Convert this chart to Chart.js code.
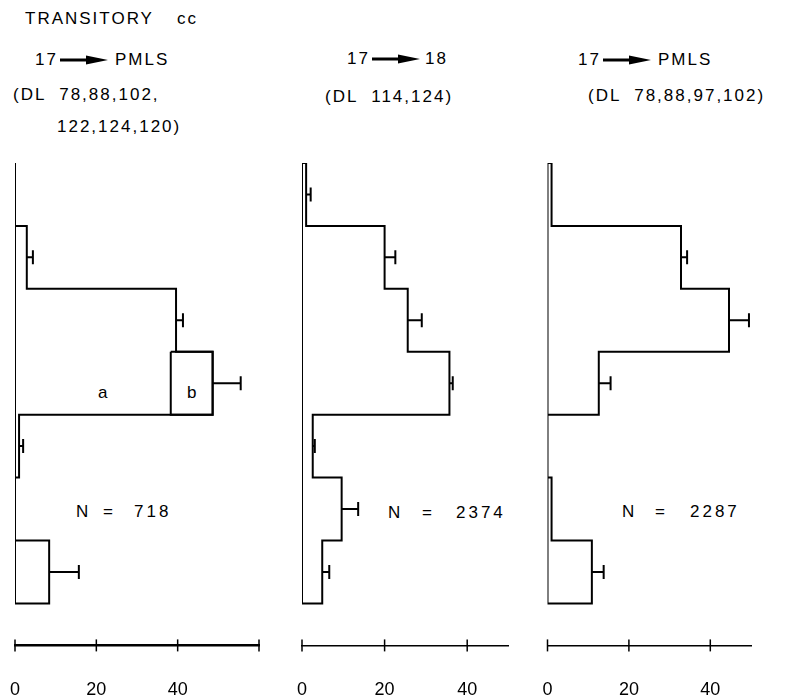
<!DOCTYPE html>
<html>
<head>
<meta charset="utf-8">
<script src="https://cdn.jsdelivr.net/npm/chart.js@4.4.1/dist/chart.umd.min.js"></script>
<style>
  html, body { margin: 0; padding: 0; background: #fff; overflow: hidden; }
  #page { position: relative; width: 789px; height: 700px; overflow: hidden;
          font-family: "Liberation Sans", Arial, sans-serif; color: #000; }
  .txt { position: absolute; font-size: 17px; letter-spacing: 2px; line-height: 20px; white-space: pre; }
  .num { letter-spacing: 3px; }
  .arrow { position: absolute; }
  canvas { position: absolute; top: 0; }
</style>
</head>
<body>
<div id="page">
  <div class="txt" style="left:25px;top:9px">TRANSITORY</div>
  <div class="txt" style="left:177px;top:9px">cc</div>

  <div class="txt" style="left:35px;top:50px">17</div>
  <svg class="arrow" style="left:60px;top:55px" width="50" height="10"><line x1="0" y1="5" x2="30" y2="5" stroke="#000" stroke-width="3"/><polygon points="26,0.5 48,5 26,9.5" fill="#000"/></svg>
  <div class="txt" style="left:115px;top:50px">PMLS</div>
  <div class="txt" style="left:13px;top:85px">(DL  78,88,102,</div>
  <div class="txt" style="left:57px;top:117px">122,124,120)</div>

  <div class="txt" style="left:347px;top:49px">17</div>
  <svg class="arrow" style="left:372px;top:54px" width="50" height="10"><line x1="0" y1="5" x2="30" y2="5" stroke="#000" stroke-width="3"/><polygon points="26,0.5 48,5 26,9.5" fill="#000"/></svg>
  <div class="txt" style="left:425px;top:49px">18</div>
  <div class="txt" style="left:325px;top:87px">(DL  114,124)</div>

  <div class="txt" style="left:578px;top:50px">17</div>
  <svg class="arrow" style="left:603px;top:55px" width="50" height="10"><line x1="0" y1="5" x2="30" y2="5" stroke="#000" stroke-width="3"/><polygon points="26,0.5 48,5 26,9.5" fill="#000"/></svg>
  <div class="txt" style="left:658px;top:50px">PMLS</div>
  <div class="txt" style="left:588px;top:86px">(DL  78,88,97,102)</div>

  <div class="txt" style="left:98px;top:383px">a</div>
  <div class="txt" style="left:187px;top:383px">b</div>

  <div class="txt" style="left:76px;top:502px">N</div>
  <div class="txt" style="left:103px;top:502px">=</div>
  <div class="txt num" style="left:134px;top:502px">718</div>
  <div class="txt" style="left:388px;top:503px">N</div>
  <div class="txt" style="left:422px;top:503px">=</div>
  <div class="txt num" style="left:456px;top:503px">2374</div>
  <div class="txt" style="left:622px;top:502px">N</div>
  <div class="txt" style="left:655px;top:502px">=</div>
  <div class="txt num" style="left:690px;top:502px">2287</div>

  <canvas id="c1" width="280" height="701" style="left:0px"></canvas>
  <canvas id="c2" width="250" height="701" style="left:280px"></canvas>
  <canvas id="c3" width="259" height="701" style="left:530px"></canvas>
</div>
<script>
// 7 bins from top to bottom, value = length of the horizontal bar
const binCount = 7;
const tickValuesA = [0, 20, 40, 60];
const tickValuesB = [0, 20, 40];

const p1Values = [0, 2.9, 39.6, 48.6, 1.0, 0, 8.4];
const p1Errors = [0, 1.5, 1.7, 6.9, 1.0, 0, 7.3];
const p1PartA = 38.3; // bin 4 split into a | b

const p2Values = [1.0, 20.0, 25.6, 35.7, 2.6, 9.6, 4.9];
const p2Errors = [1.1, 2.6, 3.4, 0.8, 0.5, 4.0, 1.7];

const p3Values = [1.0, 32.8, 44.6, 12.6, 0, 1.0, 10.9];
const p3Errors = [0, 1.5, 4.9, 2.9, 0, 0, 2.9];

// gap under the last bin down to the x axis, in bins
const axisGap = 0.668;

function outline(values) {
  const pts = [{ x: 0, y: 0 }];
  values.forEach((v, i) => {
    pts.push({ x: v, y: i });
    pts.push({ x: v, y: i + 1 });
  });
  pts.push({ x: 0, y: values.length });
  pts.push({ x: 0, y: 0 });
  return pts;
}

const errorBars = {
  id: "errorBars",
  afterDatasetsDraw(chart, args, opts) {
    if (!opts.values) return;
    const { ctx } = chart;
    const xs = chart.scales.x;
    const ys = chart.scales.y;
    ctx.save();
    ctx.strokeStyle = "#000";
    ctx.lineWidth = 2;
    opts.values.forEach((v, i) => {
      const e = opts.errors[i];
      if (!e) return;
      const y = ys.getPixelForValue(i + 0.5);
      const x0 = xs.getPixelForValue(v);
      const x1 = xs.getPixelForValue(v + e);
      ctx.beginPath();
      ctx.moveTo(x0, y);
      ctx.lineTo(x1, y);
      ctx.moveTo(x1, y - 7);
      ctx.lineTo(x1, y + 7);
      ctx.stroke();
    });
    ctx.restore();
  },
};

// tick marks cross the axis line
const crossTicks = {
  id: "crossTicks",
  afterDraw(chart) {
    const { ctx } = chart;
    const xs = chart.scales.x;
    ctx.save();
    ctx.strokeStyle = "#000";
    ctx.lineWidth = 1.5;
    xs.ticks.forEach((t) => {
      const x = xs.getPixelForValue(t.value);
      ctx.beginPath();
      ctx.moveTo(x, xs.top - 6);
      ctx.lineTo(x, xs.top + 6);
      ctx.stroke();
    });
    ctx.restore();
  },
};

function makePanel(id, values, errors, xMax, tickValues, pad, axisWidth, extra) {
  const datasets = [
    {
      data: outline(values),
      showLine: true,
      borderColor: "#000",
      borderWidth: 2,
      pointRadius: 0,
      fill: false,
    },
  ].concat(extra || []);

  new Chart(document.getElementById(id), {
    type: "scatter",
    data: { datasets: datasets },
    plugins: [errorBars, crossTicks],
    options: {
      responsive: false,
      animation: false,
      layout: { padding: { left: pad[0], right: pad[1], top: 163, bottom: 0 } },
      scales: {
        x: {
          type: "linear",
          min: 0,
          max: xMax,
          afterBuildTicks: (scale) => {
            scale.ticks = tickValues.map((v) => ({ value: v }));
          },
          border: { display: true, color: "#000", width: axisWidth },
          grid: {
            display: true,
            drawOnChartArea: false,
            drawTicks: true,
            tickLength: 34,
            tickColor: "rgba(0,0,0,0)",
          },
          ticks: {
            color: "#000",
            padding: 0,
            maxRotation: 0,
            autoSkip: false,
            font: { family: "Liberation Sans", size: 18 },
            callback: (v) => (v > 40 ? "" : v),
          },
        },
        y: {
          type: "linear",
          min: 0,
          max: binCount + axisGap,
          reverse: true,
          display: false,
        },
      },
      plugins: {
        legend: { display: false },
        tooltip: { enabled: false },
        errorBars: { values: values, errors: errors },
      },
    },
  });
}

// box b of bin 4 in the first panel
const boxB = {
  data: [
    { x: p1PartA, y: 3 },
    { x: p1Values[3], y: 3 },
    { x: p1Values[3], y: 4 },
    { x: p1PartA, y: 4 },
    { x: p1PartA, y: 3 },
  ],
  showLine: true,
  borderColor: "#000",
  borderWidth: 2,
  pointRadius: 0,
  fill: false,
};

makePanel("c1", p1Values, p1Errors, 60, tickValuesA, [15, 21], 2.5, [boxB]);
makePanel("c2", p2Values, p2Errors, 50, tickValuesB, [22, 21.5], 1.5);
makePanel("c3", p3Values, p3Errors, 50, tickValuesB, [17.5, 38], 1.5);
</script>
</body>
</html>
